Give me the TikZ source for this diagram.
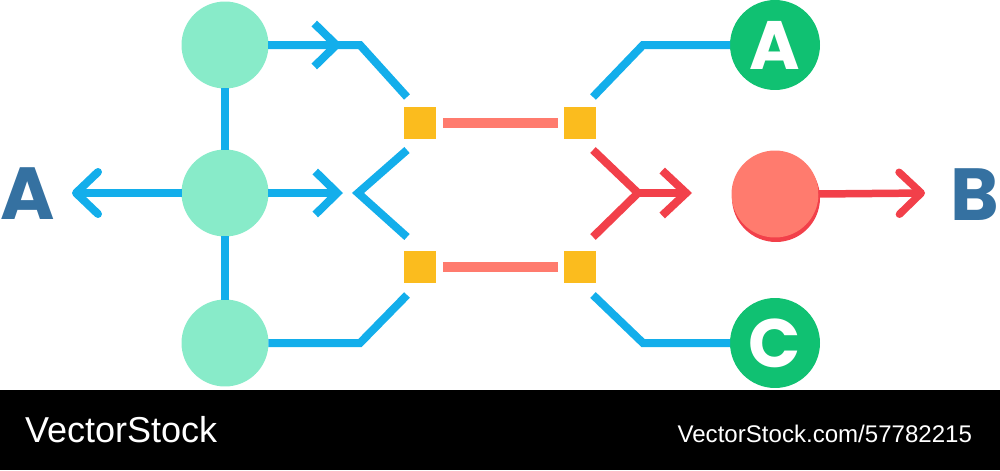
\documentclass[tikz,border=0pt]{standalone}
\usepackage{fontspec}
\setmainfont{Liberation Sans}
\newfontfamily\letterfont{Poppins}
\usetikzlibrary{arrows.meta,calc,positioning}
\definecolor{mint}{HTML}{88EBC9}
\definecolor{wireblue}{HTML}{13AEEB}
\definecolor{amber}{HTML}{FBBC1E}
\definecolor{salmon}{HTML}{FF7B6E}
\definecolor{alertred}{HTML}{F2404A}
\definecolor{leaf}{HTML}{10C172}
\definecolor{ink}{HTML}{3571A1}

\begin{document}
\begin{tikzpicture}[x=0.02cm,y=-0.02cm,every node/.style={outer sep=0pt,inner sep=0pt}]
\tikzstyle{dot}=[circle,minimum size=1.74cm]
\tikzstyle{port}=[fill=amber,minimum size=0.63cm]
\tikzstyle{wire}=[line width=0.16cm,draw=wireblue]
\tikzstyle{hotwire}=[line width=0.16cm,draw=alertred]
\tikzstyle{link}=[line width=0.19cm,draw=salmon,shorten <=0.14cm,shorten >=0.13cm]
\tikzstyle{barb}=[-{Straight Barb[length=0.44cm,width=0.86cm]}]
\tikzstyle{softbarb}=[-{Straight Barb[round,length=0.44cm,width=0.84cm]}]
\tikzstyle{bigletter}=[font=\letterfont\bfseries\fontsize{42}{42}\selectfont,text=ink]
\tikzstyle{ballletter}=[font=\letterfont\bfseries\fontsize{39}{39}\selectfont,text=white]
\useasboundingbox (0,0) rectangle (1000,470);
% inputs on the left
\node (in1) [dot,fill=mint] at (225,45) {};
\node (in2) [dot,fill=mint] at (225,193) {};
\node (in3) [dot,fill=mint] at (225,343) {};
\node (labA) [bigletter,anchor=west] at (0,194) {A};
% the four ports
\node (sqa) [port] at (420,123) {};
\node (sqb) [port] at (420,267) {};
\node (sqc) [port] at (580,123) {};
\node (sqd) [port] at (580,267) {};
% outputs on the right
\fill [alertred] (776,198) circle (0.88cm);
\node (outB) [dot,fill=salmon,minimum size=1.74cm] at (775,194) {};
\node (outA) [dot,fill=leaf,minimum size=1.8cm,ballletter] at (775,45) {A};
\node (outC) [dot,fill=leaf,minimum size=1.8cm,ballletter] at (775,343) {C};
\node (labB) [bigletter,anchor=east] at (999,195) {B};
% bends and free ends
\coordinate (ka) at (360,45);  \coordinate (ea) at (407,97);
\coordinate (tipa) at (342,45); \coordinate (tipb) at (343,193);
\coordinate (tipl) at (72,193);
\coordinate (vl) at (358,193);  \coordinate (ul) at (407,150);
\coordinate (dl) at (407,237);
\coordinate (kb) at (360,343);  \coordinate (eb) at (407,295);
\coordinate (fa) at (593,97);   \coordinate (kc) at (643,45);
\coordinate (fb) at (593,295);  \coordinate (kd) at (643,343);
\coordinate (ur) at (593,150);  \coordinate (dr) at (593,237);
\coordinate (vr) at (638,193);  \coordinate (tipr) at (692,193);
\coordinate (tipo) at (925,193);
% blue connectors
\draw [wire] (in1) -- (in2) (in2) -- (in3);
\draw [wire] (in1.east) -- (ka) -- (ea);
\draw [wire,barb] (in1.east) -- (tipa);
\draw [wire,barb] (in2.east) -- (tipb);
\draw [wire,softbarb] (in2.west) -- (tipl);
\draw [wire] (ul) -- (vl) -- (dl);
\draw [wire] (in3.east) -- (kb) -- (eb);
\draw [wire] (fa) -- (kc) -- (outA.west);
\draw [wire] (fb) -- (kd) -- (outC.west);
% salmon links between ports
\draw [link] (sqa) -- (sqc);
\draw [link] (sqb) -- (sqd);
% red merge and output
\draw [hotwire] (ur) -- (vr) -- (dr);
\draw [hotwire,-{Straight Barb[length=0.48cm,width=0.9cm]}] (vr) -- (tipr);
\draw [hotwire,softbarb,line width=0.15cm] (outB.east) -- (tipo);
% banner
\fill [black] (0,390) rectangle (1000,470);
\node (brand) [anchor=base west,text=white,font=\fontsize{20.5}{20.5}\selectfont] at (25,442) {VectorStock};
\node (ref) [anchor=base east,text=white,font=\fontsize{13.7}{13.7}\selectfont] at (972,442) {VectorStock.com/57782215};
\end{tikzpicture}
\end{document}
